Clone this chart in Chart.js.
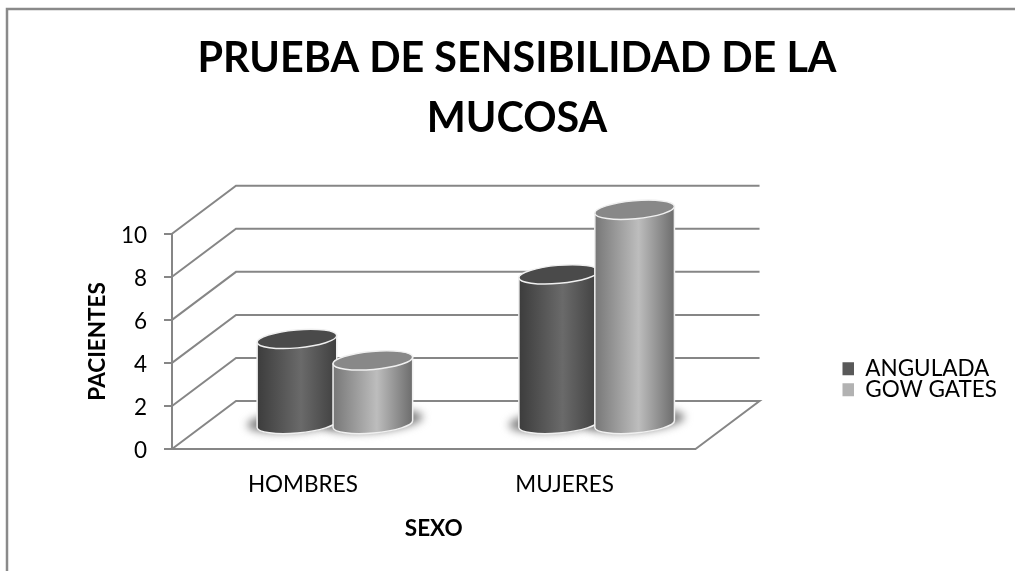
<!DOCTYPE html>
<html>
<head>
<meta charset="utf-8">
<title>Prueba de sensibilidad de la mucosa</title>
<script src="https://cdn.jsdelivr.net/npm/chart.js@4"></script>
<style>
  html, body { margin: 0; padding: 0; background: #fff; }
  #wrap { position: relative; width: 1015px; height: 571px; overflow: hidden; }
</style>
</head>
<body>
<div id="wrap"><canvas id="chart" width="1015" height="571"></canvas></div>
<script>
const categories = ['HOMBRES', 'MUJERES'];
const angulada = [4, 7];
const gowGates = [3, 10];
const titleLines = ['PRUEBA DE SENSIBILIDAD DE LA', 'MUCOSA'];

const FONT = 'Lato, Carlito, Calibri, sans-serif';
const GRID = '#868686';
const DEPTH_X = 64, DEPTH_Y = -48;
const TILT = -5 * Math.PI / 180;

const looks = [
  { top: '#4a4a4a', side: ['#3c3c3c', '#6a6a6a', '#3f3f3f'] },
  { top: '#888888', side: ['#777777', '#bdbdbd', '#6c6c6c'] }
];

function ellipsePath(ctx, cx, cy, rx, ry) {
  ctx.beginPath();
  ctx.ellipse(cx, cy, rx, ry, TILT, 0, Math.PI * 2);
}

function drawCylinder(ctx, bar, look) {
  const cx = bar.x + DEPTH_X / 2;
  const topY = bar.y + DEPTH_Y / 2;
  const baseY = bar.base + DEPTH_Y / 2;
  const rx = bar.width / 2 + 2;
  const ry = 9;
  const dx = rx * Math.cos(TILT), dy = rx * Math.sin(TILT);

  const g = ctx.createLinearGradient(cx - rx, 0, cx + rx, 0);
  g.addColorStop(0, look.side[0]);
  g.addColorStop(0.55, look.side[1]);
  g.addColorStop(1, look.side[2]);

  ctx.beginPath();
  ctx.moveTo(cx - dx, topY - dy);
  ctx.lineTo(cx - dx, baseY - dy);
  ctx.ellipse(cx, baseY, rx, ry, TILT, Math.PI, 0, true);
  ctx.lineTo(cx + dx, topY + dy);
  ctx.closePath();
  ctx.fillStyle = g;
  ctx.fill();
  ctx.strokeStyle = '#f0f0f0';
  ctx.lineWidth = 1.5;
  ctx.stroke();

  ellipsePath(ctx, cx, topY, rx, ry);
  ctx.fillStyle = look.top;
  ctx.fill();
  ctx.stroke();
}

const cylinders3d = {
  id: 'cylinders3d',
  afterLayout(chart) {
    const l = chart.legend;
    l.left = 842.5; l.right = 1015; l.top = 359; l.bottom = 420;
    // the title sits a little left of the canvas centre
    chart.titleBlock.left = 0;
    chart.titleBlock.right = 1034;
  },
  beforeDraw(chart) {
    const ctx = chart.ctx;
    ctx.save();
    ctx.strokeStyle = '#8a8a8a';
    ctx.lineWidth = 2.5;
    ctx.beginPath();
    ctx.moveTo(7, 571); ctx.lineTo(7, 9); ctx.lineTo(1015, 9);
    ctx.stroke();
    ctx.restore();
  },
  beforeDatasetsDraw(chart) {
    const { ctx, chartArea: a, scales: { y } } = chart;
    ctx.save();
    // back wall and side wall
    ctx.strokeStyle = GRID;
    ctx.lineWidth = 2;
    y.ticks.forEach(t => {
      const py = y.getPixelForValue(t.value);
      ctx.beginPath();
      ctx.moveTo(a.left, py);
      ctx.lineTo(a.left + DEPTH_X, py + DEPTH_Y);
      ctx.lineTo(a.right + DEPTH_X, py + DEPTH_Y);
      if (t.value === 0) ctx.lineTo(a.right, py);
      ctx.stroke();
    });

    // floor shadow
    const metas = chart.data.datasets.map((d, i) => chart.getDatasetMeta(i));
    ctx.save();
    ctx.filter = 'blur(4px)';
    ctx.fillStyle = '#808080';
    metas.forEach(m => m.data.forEach(bar => {
      ellipsePath(ctx, bar.x + DEPTH_X / 2, bar.base + DEPTH_Y / 2 - 3, bar.width / 2 + 12, 11);
      ctx.fill();
    }));
    ctx.restore();

    // first series first, so the second one overlaps it
    categories.forEach((c, i) => {
      metas.forEach((m, s) => drawCylinder(ctx, m.data[i], looks[s]));
    });
    ctx.restore();
  },
  beforeDatasetDraw() {
    return false;
  }
};

new Chart(document.getElementById('chart'), {
  type: 'bar',
  plugins: [cylinders3d],
  data: {
    labels: categories,
    datasets: [
      { label: 'ANGULADA', data: angulada, backgroundColor: '#595959' },
      { label: 'GOW GATES', data: gowGates, backgroundColor: '#b2b2b2' }
    ]
  },
  options: {
    responsive: false,
    animation: false,
    events: [],
    datasets: { bar: { categoryPercentage: 0.58, barPercentage: 1 } },
    layout: { padding: { left: 84, right: 155, top: 0, bottom: 29 } },
    plugins: {
      tooltip: { enabled: false },
      title: {
        display: true,
        text: titleLines,
        color: '#000',
        font: { family: FONT, size: 41.3, weight: 'bold', lineHeight: 1.45 },
        padding: { top: 29, bottom: 85 }
      },
      legend: {
        position: 'right',
        align: 'start',
        labels: {
          color: '#000',
          font: { family: FONT, size: 22.5 },
          boxWidth: 13, boxHeight: 13, padding: -1.5
        }
      }
    },
    scales: {
      x: {
        afterFit(s) { s.height = 93; },
        grid: { display: false },
        border: { color: GRID, width: 2 },
        ticks: { color: '#000', font: { family: FONT, size: 22.5 }, padding: 14 },
        title: { display: true, text: 'SEXO', color: '#000', font: { family: FONT, size: 22.5, weight: 'bold' }, padding: 0 }
      },
      y: {
        min: 0, max: 10,
        afterFit(s) { s.width = 88; },
        grid: { drawOnChartArea: false, color: GRID, lineWidth: 2, tickLength: 8, tickColor: GRID },
        border: { color: GRID, width: 2 },
        ticks: { stepSize: 2, color: '#000', font: { family: FONT, size: 22.5 }, padding: 17, labelOffset: 2 },
        title: { display: true, text: 'PACIENTES', color: '#000', font: { family: FONT, size: 22.5, weight: 'bold' }, padding: 0 }
      }
    }
  }
});
</script>
</body>
</html>
